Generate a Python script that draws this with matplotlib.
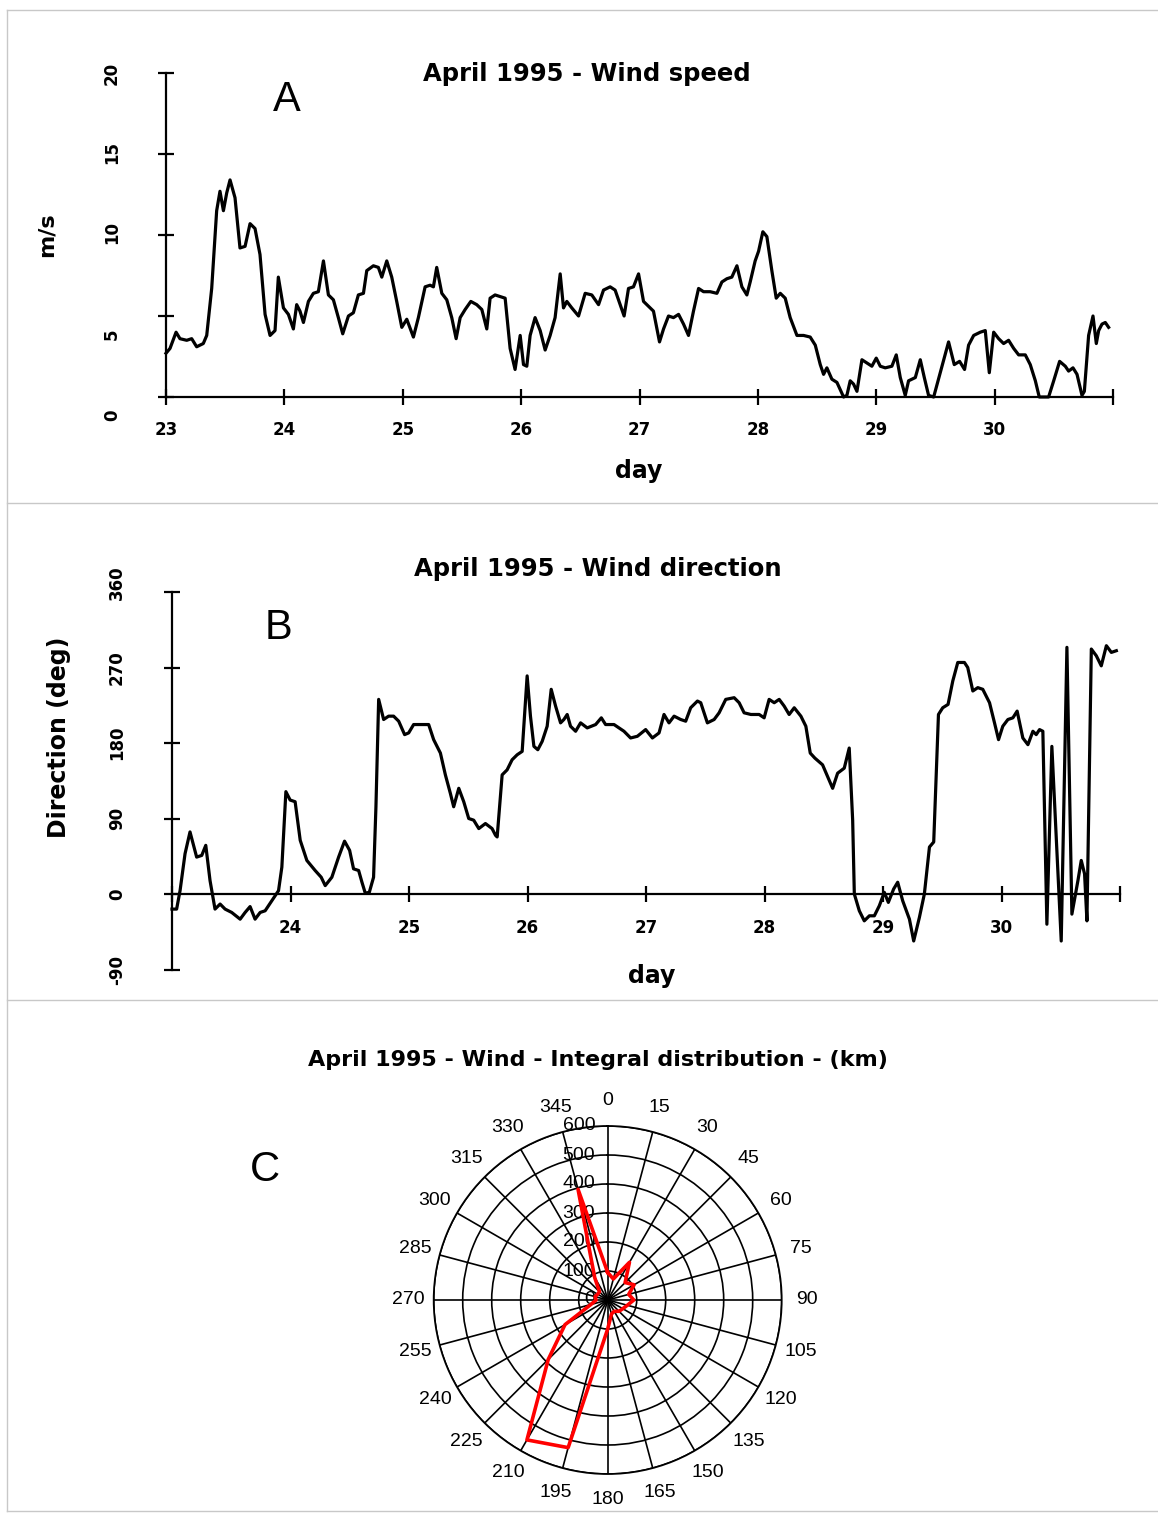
import numpy as np
import matplotlib.pyplot as plt
from matplotlib.lines import Line2D
from matplotlib import transforms

# Panel A - wind speed (m/s) against day of April 1995
speed_day = [23.000, 23.034, 23.085, 23.118, 23.175, 23.217, 23.259, 23.315, 23.344, 23.386,
             23.428, 23.456, 23.485, 23.513, 23.541, 23.583, 23.625, 23.668, 23.710, 23.752,
             23.794, 23.837, 23.879, 23.921, 23.949, 23.992, 24.034, 24.076, 24.104, 24.132,
             24.161, 24.203, 24.245, 24.287, 24.330, 24.372, 24.414, 24.456, 24.493, 24.541,
             24.583, 24.625, 24.668, 24.696, 24.752, 24.794, 24.823, 24.865, 24.907, 24.949,
             24.992, 25.034, 25.090, 25.132, 25.189, 25.231, 25.259, 25.287, 25.330, 25.372,
             25.414, 25.451, 25.485, 25.527, 25.575, 25.625, 25.668, 25.710, 25.738,
             25.780, 25.823, 25.865, 25.907, 25.949, 25.992, 26.020, 26.048, 26.076, 26.118,
             26.161, 26.203, 26.245, 26.287, 26.330, 26.358, 26.386, 26.428, 26.485, 26.541,
             26.597, 26.654, 26.696, 26.752, 26.794, 26.837, 26.870, 26.907, 26.949, 26.992,
             27.034, 27.076, 27.118, 27.169, 27.203, 27.245, 27.287, 27.330, 27.372, 27.414,
             27.456, 27.499, 27.541, 27.597, 27.654, 27.696, 27.738, 27.780, 27.823, 27.865,
             27.907, 27.935, 27.977, 28.006, 28.042, 28.076, 28.118, 28.155, 28.189, 28.231,
             28.273, 28.330, 28.386, 28.442,
             28.485, 28.527, 28.555, 28.583, 28.625, 28.668, 28.724, 28.752, 28.780, 28.808,
             28.837, 28.879, 28.921, 28.963, 29.000, 29.034, 29.076, 29.132, 29.169, 29.203,
             29.245, 29.273, 29.330, 29.372, 29.406, 29.442, 29.485, 29.541, 29.611, 29.659,
             29.704, 29.746, 29.780, 29.823, 29.879, 29.921, 29.955, 29.992, 30.034, 30.076,
             30.118, 30.161, 30.203, 30.259, 30.301, 30.344, 30.377, 30.456, 30.499, 30.549,
             30.597, 30.625, 30.662, 30.696, 30.738, 30.758, 30.794, 30.831, 30.859, 30.879,
             30.907, 30.935, 30.963]
speed_ms = [2.7, 3.0, 4.0, 3.6, 3.5, 3.6, 3.1, 3.3, 3.8, 6.7,
            11.5, 12.7, 11.5, 12.6, 13.4, 12.3, 9.2, 9.3, 10.7, 10.4,
            8.8, 5.1, 3.8, 4.1, 7.4, 5.5, 5.1, 4.2, 5.7, 5.3,
            4.6, 5.9, 6.4, 6.5, 8.4, 6.3, 6.0, 4.9, 3.9, 5.0,
            5.2, 6.3, 6.4, 7.8, 8.1, 8.0, 7.4, 8.4, 7.4, 5.9,
            4.3, 4.8, 3.7, 4.9, 6.8, 6.9, 6.8, 8.0, 6.4, 6.0,
            4.9, 3.6, 4.9, 5.4, 5.9, 5.7, 5.4, 4.2, 6.1,
            6.3, 6.2, 6.1, 3.0, 1.7, 3.8, 2.0, 1.9, 3.8, 4.9,
            4.1, 2.9, 3.8, 4.9, 7.6, 5.5, 5.9, 5.5, 5.0, 6.4,
            6.3, 5.7, 6.6, 6.8, 6.6, 5.7, 5.0, 6.7, 6.8, 7.6,
            5.9, 5.6, 5.3, 3.4, 4.2, 5.0, 4.9, 5.1, 4.5, 3.8,
            5.3, 6.7, 6.5, 6.5, 6.4, 7.1, 7.3, 7.4, 8.1, 6.8,
            6.3, 7.1, 8.4, 9.0, 10.2, 9.9, 7.8, 6.1, 6.4, 6.1,
            4.9, 3.8, 3.8, 3.7,
            3.2, 2.0, 1.4, 1.8, 1.1, 0.9, 0.0, 0.1, 1.0, 0.8,
            0.35, 2.3, 2.1, 1.9, 2.4, 1.9, 1.8, 1.9, 2.6, 1.2,
            0.1, 1.0, 1.2, 2.3, 1.2, 0.1, 0.0, 1.5, 3.4, 2.0,
            2.2, 1.7, 3.2, 3.8, 4.0, 4.1, 1.5, 4.0, 3.6, 3.3,
            3.5, 3.0, 2.6, 2.6, 2.0, 1.0, 0.0, 0.0, 1.0, 2.2,
            1.9, 1.6, 1.8, 1.4, 0.1, 0.35, 3.8, 5.0, 3.3, 4.1,
            4.5, 4.6, 4.3]

# Panel B - wind direction (deg)
dir_day = [23.000, 23.039, 23.068, 23.110, 23.152, 23.208, 23.251, 23.285, 23.321, 23.363,
           23.406, 23.448, 23.504, 23.575, 23.617, 23.659, 23.701, 23.744, 23.786, 23.842,
           23.899, 23.927, 23.961, 23.997, 24.039, 24.082, 24.138, 24.208, 24.259, 24.293,
           24.349, 24.406, 24.456, 24.499, 24.532, 24.575, 24.603, 24.631, 24.665, 24.701,
           24.721, 24.744, 24.786, 24.828, 24.870, 24.913, 24.963, 24.997, 25.039, 25.096,
           25.166, 25.208, 25.265, 25.307, 25.349, 25.377, 25.420, 25.462, 25.504, 25.546,
           25.589, 25.645, 25.701, 25.730,
           25.744, 25.786, 25.828, 25.870, 25.913, 25.955, 25.997, 26.025, 26.054, 26.087,
           26.124, 26.166, 26.200, 26.237, 26.279, 26.307, 26.335, 26.363, 26.406, 26.448,
           26.504, 26.575, 26.623, 26.659, 26.730, 26.814, 26.870, 26.927, 26.997, 27.054,
           27.110, 27.152, 27.194, 27.237, 27.293, 27.335, 27.377, 27.434, 27.462, 27.518,
           27.575, 27.617, 27.673, 27.744, 27.786, 27.828, 27.885, 27.955, 27.997, 28.039,
           28.082, 28.124, 28.166, 28.208, 28.251, 28.307, 28.349, 28.386,
           28.425, 28.490, 28.532, 28.575, 28.617, 28.673, 28.715, 28.744, 28.758, 28.800,
           28.842, 28.885, 28.927, 28.969, 29.011, 29.045, 29.090, 29.124, 29.166, 29.223,
           29.259, 29.307, 29.349, 29.392, 29.428, 29.468, 29.504, 29.549, 29.589, 29.631,
           29.687, 29.715, 29.758, 29.800, 29.842, 29.899, 29.941, 29.975, 30.011, 30.054,
           30.096, 30.132, 30.180, 30.223, 30.265, 30.293, 30.321, 30.349, 30.383, 30.425,
           30.504, 30.552, 30.594, 30.645, 30.673, 30.701, 30.721, 30.758, 30.800, 30.842,
           30.885, 30.927, 30.969]
dir_deg = [-18, -18, 4, 48, 74, 44, 46, 58, 16, -18,
           -12, -18, -22, -30, -22, -15, -30, -22, -20, -8,
           4, 32, 122, 112, 110, 64, 40, 28, 20, 10,
           20, 44, 63, 52, 30, 28, 14, 1, 2, 20,
           104, 232, 208, 212, 212, 206, 190, 192, 202, 202,
           202, 184, 168, 142, 120, 104, 126, 110, 90, 88,
           78, 84, 78, 70,
           68, 142, 148, 160, 166, 170, 260, 212, 176, 172,
           182, 200, 244, 224, 204, 208, 214, 200, 194, 204,
           198, 202, 210, 202, 202, 194, 186, 188, 196, 186,
           192, 214, 204, 212, 208, 206, 222, 230, 228, 204,
           208, 216, 232, 234, 228, 216, 214, 214, 210, 232,
           228, 232, 224, 214, 222, 212, 200, 168,
           162, 154, 140, 126, 144, 150, 174, 88, 0, -20,
           -32, -26, -26, -14, 2, -10, 6, 14, -8, -30,
           -56, -28, 0, 56, 62, 214, 222, 226, 254, 276,
           276, 270, 242, 246, 244, 228, 204, 184, 200, 208,
           210, 218, 186, 178, 194, 190, 196, 194, -36, 176,
           -56, 294, -24, 16, 40, 24, -32, 292, 284, 272,
           296, 288, 290]

# Panel C - integral wind run (km) per 15 deg sector
rose_deg = list(range(0, 360, 15))
rose_km = [95, 75, 150, 85, 105, 75, 90, 70, 60, 55, 45, 50,
           100, 527, 557, 290, 170, 60, 40, 45, 40, 40, 90, 395]

W, H = 1158, 1513
fig = plt.figure(figsize=(W / 100, H / 100), dpi=100)

# light frames around the three panels
grey = '#c8c8c8'
for y0 in [10, 503, 1000, 1511]:
    fig.add_artist(Line2D([7 / W, 1.0], [1 - y0 / H, 1 - y0 / H], transform=fig.transFigure, color=grey, lw=1))
fig.add_artist(Line2D([7 / W, 7 / W], [1 - 10 / H, 1 - 1511 / H], transform=fig.transFigure, color=grey, lw=1))

tick_font = dict(fontsize=12, fontweight='bold')
lab_font = dict(fontsize=17, fontweight='bold')
day_ticks = np.arange(23, 32)


def style_axes(ax):
    for s in ['top', 'right']:
        ax.spines[s].set_visible(False)
    for s in ['left', 'bottom']:
        ax.spines[s].set_linewidth(1.6)
    ax.set_xlim(23, 31)
    ax.set_xticks(day_ticks)
    ax.tick_params(axis='both', direction='inout', length=12, width=1.6)


def y_labels(ax, vals, xfrac, shifts):
    # rotated y tick labels, a few are nudged like in the original export
    for v, d in zip(vals, shifts):
        tr = transforms.blended_transform_factory(ax.transAxes, ax.transData) + \
            transforms.ScaledTranslation(0, d / 100, fig.dpi_scale_trans)
        ax.text(xfrac, v, str(v), transform=tr, rotation=90, ha='center', va='center',
                clip_on=False, **tick_font)


# ---- A: wind speed ----
axA = fig.add_axes([166 / W, 1 - 397 / H, 947 / W, 324 / H])
axA.plot(speed_day, speed_ms, color='black', lw=2.3, clip_on=False)
style_axes(axA)
axA.set_ylim(0, 20)
speed_ticks = [0, 5, 10, 15, 20]
axA.set_yticks(speed_ticks)
axA.set_yticklabels([])
y_labels(axA, speed_ticks, (112 - 166) / 947, [-18, -18, 2, 2, 0])
axA.set_xticklabels([str(d) for d in day_ticks[:-1]] + [''], **tick_font)
axA.tick_params(axis='x', pad=11)
axA.set_xlabel('day', **lab_font)
axA.xaxis.set_label_coords(0.4995, -0.191)
axA.set_ylabel('m/s', fontsize=16, fontweight='bold')
axA.yaxis.set_label_coords(-0.115, 0.5)
axA.set_title('April 1995 - Wind speed', fontsize=17.5, fontweight='bold', x=0.4446, y=0.95)
fig.text(287 / W, 1 - 100 / H, 'A', fontsize=30, family='Liberation Sans', ha='center', va='center')

# ---- B: wind direction ----
axB = fig.add_axes([172 / W, 1 - 969.5 / H, 948 / W, 377.5 / H])
axB.plot(dir_day, dir_deg, color='black', lw=2.3, clip_on=False)
style_axes(axB)
axB.spines['bottom'].set_position(('data', 0))
axB.set_ylim(-90, 360)
dir_ticks = [-90, 0, 90, 180, 270, 360]
axB.set_yticks(dir_ticks)
axB.set_yticklabels([])
y_labels(axB, dir_ticks, (117 - 172) / 948, [0, 0, 0, 0, 0, 9])
axB.set_xticklabels([''] + [str(d) for d in day_ticks[1:-1]] + [''], **tick_font)
axB.tick_params(axis='x', pad=12)
axB.set_xlabel('day', **lab_font)
axB.xaxis.set_label_coords(0.506, 0.0146)
axB.set_ylabel('Direction (deg)', **lab_font)
axB.yaxis.set_label_coords(-0.1066, 0.616)
axB.set_title('April 1995 - Wind direction', fontsize=17.5, fontweight='bold', x=0.449, y=1.019)
fig.text(279 / W, 1 - 628 / H, 'B', fontsize=30, family='Liberation Sans', ha='center', va='center')

# ---- C: wind rose ----
fig.text(598 / W, 1 - 1060 / H, 'April 1995 - Wind - Integral distribution - (km)',
         fontsize=16, fontweight='bold', ha='center', va='center')
fig.text(265 / W, 1 - 1170 / H, 'C', fontsize=30, family='Liberation Sans', ha='center', va='center')

R = 174
axC = fig.add_axes([(607.7 - R) / W, 1 - (1300 + R) / H, 2 * R / W, 2 * R / H], projection='polar')
axC.set_theta_zero_location('N')
axC.set_theta_direction(-1)
axC.set_ylim(0, 600)
axC.set_yticks(np.arange(100, 700, 100))
axC.set_yticklabels([])
axC.set_xticks(np.deg2rad(rose_deg))
axC.set_xticklabels([])
axC.grid(True, color='black', lw=1.2)
axC.spines['polar'].set_color('black')
axC.spines['polar'].set_linewidth(1.3)

th = np.deg2rad(rose_deg + [rose_deg[0]])
rr = rose_km + [rose_km[0]]
axC.plot(th, rr, color='red', lw=2.6, zorder=5)

for a in rose_deg:
    axC.text(np.deg2rad(a), 688, str(a), fontsize=14, family='Liberation Sans',
             ha='center', va='center', clip_on=False)
shift = transforms.offset_copy(axC.transData, fig=fig, x=-9, y=0, units='points')
for r in range(0, 700, 100):
    axC.text(0, r, str(r), fontsize=14, family='Liberation Sans', ha='right', va='center',
             transform=shift, clip_on=False, zorder=4)

fig.savefig('out.png', dpi=100)
